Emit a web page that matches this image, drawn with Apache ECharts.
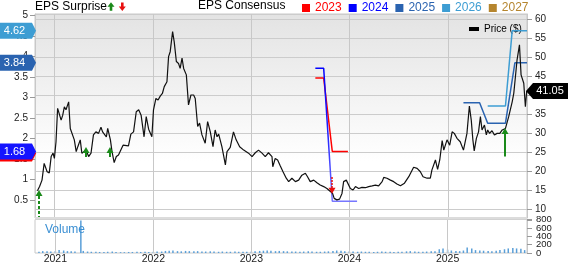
<!DOCTYPE html>
<html><head><meta charset="utf-8">
<script src="https://cdn.jsdelivr.net/npm/echarts@6/dist/echarts.min.js"></script>
<style>html,body{margin:0;padding:0;background:#fff}#c{width:568px;height:264px}</style>
</head><body><div id="c"></div>
<script>
// ---------- DATA ----------
const xRange = ['2020-10-20', '2025-10-21'];
const yearTicks = ['2021-01-01', '2022-01-01', '2023-01-01', '2024-01-01', '2025-01-01'];
const yearLabels = ['2021', '2022', '2023', '2024', '2025'];
const volumeTicks = [0, 200, 400, 600, 800];
const priceSeries = [
['2020-10-29',14.8],['2020-11-06',15.9],['2020-11-15',17.6],['2020-11-23',22.0],['2020-12-04',19.8],['2020-12-12',19.5],['2020-12-19',23.8],['2020-12-26',24.7],['2020-12-31',23.3],
['2021-01-06',27.7],['2021-01-12',36.5],['2021-01-18',36.9],['2021-01-25',33.4],['2021-01-31',34.7],['2021-02-06',36.9],['2021-02-12',36.1],['2021-02-22',38.2],['2021-02-28',31.2],['2021-03-06',30.8],['2021-03-15',28.2],['2021-03-22',25.1],['2021-03-28',26.4],['2021-04-06',28.2],['2021-04-12',24.7],['2021-04-18',24.7],['2021-04-28',25.5],['2021-05-07',23.8],['2021-05-16',24.7],['2021-05-25',29.5],['2021-06-03',30.3],['2021-06-13',29.9],['2021-06-22',31.5],['2021-06-28',30.3],['2021-07-04',30.0],['2021-07-12',29.0],['2021-07-17',31.2],['2021-07-27',28.2],['2021-08-02',25.1],['2021-08-10',22.2],['2021-08-18',23.8],['2021-08-26',24.2],['2021-09-02',24.5],['2021-09-12',26.8],['2021-10-02',26.6],['2021-10-11',29.7],['2021-10-21',30.3],['2021-10-31',35.6],['2021-11-09',36.1],['2021-11-18',34.7],['2021-11-29',29.0],['2021-12-07',34.3],['2021-12-16',31.0],['2021-12-28',29.0],
['2022-01-03',36.1],['2022-01-12',39.1],['2022-01-20',38.7],['2022-01-28',39.7],['2022-02-05',40.4],['2022-02-12',42.2],['2022-02-22',43.5],['2022-02-28',50.1],['2022-03-06',51.4],['2022-03-15',56.7],['2022-03-21',54.0],['2022-03-29',48.8],['2022-04-06',48.3],['2022-04-12',47.0],['2022-04-19',49.7],['2022-04-25',47.0],['2022-05-05',45.3],['2022-05-13',37.4],['2022-05-22',40.0],['2022-06-01',40.0],['2022-06-07',39.1],['2022-06-16',31.7],['2022-06-23',32.6],['2022-07-02',29.5],['2022-07-14',27.3],['2022-07-23',33.0],['2022-08-02',30.3],['2022-08-12',26.4],['2022-08-20',30.8],['2022-08-27',29.0],['2022-09-02',29.7],['2022-09-14',26.4],['2022-09-27',21.6],['2022-10-03',25.1],['2022-10-15',26.2],['2022-10-27',30.3],['2022-11-06',28.2],['2022-11-19',26.4],['2022-12-04',25.5],['2022-12-22',24.7],
['2023-01-04',23.8],['2023-01-16',24.8],['2023-01-28',25.5],['2023-02-10',24.7],['2023-02-22',23.8],['2023-03-06',24.8],['2023-03-19',23.8],['2023-03-22',21.1],['2023-03-31',23.3],['2023-04-09',22.9],['2023-04-19',21.3],['2023-04-29',19.8],['2023-05-11',18.1],['2023-05-20',17.2],['2023-06-01',18.1],['2023-06-14',17.2],['2023-06-26',17.6],['2023-07-08',18.9],['2023-07-21',19.4],['2023-07-29',18.5],['2023-08-08',17.2],['2023-08-21',17.6],['2023-09-02',16.9],['2023-09-14',16.3],['2023-09-27',15.9],['2023-10-09',15.4],['2023-10-22',14.6],['2023-10-30',14.1],['2023-11-05',12.8],['2023-11-15',12.4],['2023-11-25',12.6],['2023-12-04',14.1],['2023-12-10',17.2],['2023-12-20',17.6],['2023-12-26',17.2],
['2024-01-04',15.4],['2024-01-14',15.0],['2024-01-23',15.9],['2024-02-04',15.4],['2024-02-16',15.7],['2024-02-29',15.6],['2024-03-12',15.9],['2024-03-25',16.1],['2024-04-06',16.3],['2024-04-18',16.1],['2024-05-01',17.2],['2024-05-07',18.3],['2024-05-19',18.1],['2024-06-01',17.6],['2024-06-13',17.2],['2024-06-25',16.6],['2024-07-08',16.1],['2024-07-23',16.8],['2024-08-08',18.5],['2024-08-26',21.0],['2024-09-08',20.7],['2024-09-20',19.8],['2024-09-30',18.5],['2024-10-15',18.1],['2024-10-27',18.1],['2024-11-02',20.3],['2024-11-15',22.9],['2024-11-23',20.4],['2024-12-01',22.9],['2024-12-10',28.0],['2024-12-16',25.5],['2024-12-28',28.2],
['2025-01-07',26.8],['2025-01-16',30.3],['2025-01-24',29.9],['2025-02-03',28.6],['2025-02-15',27.7],['2025-02-27',25.5],['2025-03-06',25.1],['2025-03-12',29.9],['2025-03-21',37.1],['2025-03-28',33.4],['2025-04-03',28.2],['2025-04-08',25.3],['2025-04-16',28.6],['2025-04-24',30.3],['2025-05-01',34.3],['2025-05-07',30.8],['2025-05-16',32.1],['2025-05-23',29.5],['2025-05-28',30.8],['2025-06-04',29.9],['2025-06-13',30.6],['2025-06-22',29.5],['2025-07-02',29.9],['2025-07-12',29.9],['2025-07-21',30.8],['2025-08-02',31.2],['2025-08-14',34.3],['2025-08-27',38.2],['2025-09-02',40.5],['2025-09-08',44.8],['2025-09-14',49.2],['2025-09-23',53.2],['2025-09-29',45.3],['2025-10-03',44.8],['2025-10-09',43.1],['2025-10-15',36.9],['2025-10-20',41.05]
];
const cons2023 = [['2023-08-27',3.47],['2023-09-27',3.47],['2023-10-29',1.68],['2023-12-26',1.68]];
const cons2024 = [['2023-08-27',3.71],['2023-09-27',3.71],['2023-10-29',0.47],['2024-01-29',0.47]];
const cons2025 = [['2025-02-27',2.87],['2025-04-28',2.87],['2025-05-28',2.37],['2025-08-02',2.37],['2025-09-06',3.84],['2025-10-21',3.84]];
const cons2026 = [['2025-05-28',2.79],['2025-08-02',2.79],['2025-08-27',4.62],['2025-10-21',4.62]];
const cons2027 = [];
// date, arrow tip price, tail price, direction (1 beat / -1 miss), stem style (0 solid, 1 dashed, 2 dotted)
const surprises = [
['2020-11-02',15.0,7.63,1,1],
['2021-04-28',26.3,23.7,1,0],
['2021-07-27',26.3,23.7,1,0],
['2023-10-29',14.0,18.4,-1,2],
['2025-07-31',31.3,23.8,1,0]
];
const epsTags = [4.62, 3.84, 1.68];
const volumeSeries = [
['2020-11-01',30],['2020-11-15',45],['2020-12-01',40],['2020-12-15',35],
['2021-01-01',50],['2021-01-15',70],['2021-02-01',60],['2021-02-15',45],['2021-03-01',40],['2021-03-15',35],['2021-04-06',780],['2021-04-15',50],['2021-05-01',35],['2021-05-15',30],['2021-06-01',30],['2021-06-15',25],['2021-07-01',25],['2021-07-15',30],['2021-08-01',35],['2021-08-15',25],['2021-09-01',20],['2021-09-15',20],['2021-10-01',25],['2021-10-15',25],['2021-11-01',30],['2021-11-15',25],['2021-12-01',30],['2021-12-15',25],
['2022-01-01',30],['2022-01-15',35],['2022-02-01',35],['2022-02-15',50],['2022-03-01',55],['2022-03-15',60],['2022-04-01',45],['2022-04-15',40],['2022-05-01',50],['2022-05-15',45],['2022-06-01',40],['2022-06-15',45],['2022-07-01',35],['2022-07-15',35],['2022-08-01',40],['2022-08-15',35],['2022-09-01',30],['2022-09-15',35],['2022-10-01',30],['2022-10-15',30],['2022-11-01',35],['2022-11-15',30],['2022-12-01',30],['2022-12-15',30],
['2023-01-01',35],['2023-01-15',40],['2023-02-01',50],['2023-02-15',55],['2023-03-01',60],['2023-03-15',55],['2023-04-01',45],['2023-04-15',50],['2023-05-01',45],['2023-05-15',40],['2023-06-01',35],['2023-06-15',35],['2023-07-01',30],['2023-07-15',35],['2023-08-01',40],['2023-08-15',35],['2023-09-01',30],['2023-09-15',30],['2023-10-01',35],['2023-10-15',40],['2023-11-01',50],['2023-11-15',60],['2023-12-01',55],['2023-12-15',45],
['2024-01-01',40],['2024-01-15',35],['2024-02-01',30],['2024-02-15',35],['2024-03-01',30],['2024-03-15',30],['2024-04-01',25],['2024-04-15',30],['2024-05-01',35],['2024-05-15',30],['2024-06-01',30],['2024-06-15',25],['2024-07-01',30],['2024-07-15',30],['2024-08-01',40],['2024-08-15',45],['2024-09-01',35],['2024-09-15',30],['2024-10-01',30],['2024-10-15',35],['2024-11-01',40],['2024-11-15',45],['2024-12-01',90],['2024-12-15',110],
['2025-01-01',80],['2025-01-15',60],['2025-02-01',50],['2025-02-15',45],['2025-03-01',60],['2025-03-15',130],['2025-04-01',110],['2025-04-15',70],['2025-05-01',60],['2025-05-15',55],['2025-06-01',50],['2025-06-15',45],['2025-07-01',55],['2025-07-15',70],['2025-08-01',90],['2025-08-15',110],['2025-09-01',120],['2025-09-15',110],['2025-10-01',100],['2025-10-15',70]
];

// ---------- STYLE / LAYOUT ----------
const FONT = "'Liberation Sans', Arial, Helvetica, sans-serif";
const C = {c2023:'#ff0000', c2024:'#0000ff', c2025:'#2a63b0', c2026:'#3d9dd3', c2027:'#b5852e', up:'#1a8a1a', down:'#e81010', grid:'#cccccc', vol:'#5a9fd8'};
const L = 35, R = 41, TOP = 14, MAIN_H = 204, VOL_TOP = 219.5, VOL_H = 33.5;

const chart = echarts.init(document.getElementById('c'), null, {renderer:'canvas'});
const vLines = yearTicks.map(d => ({xAxis: d}));
const isMult = (v, step) => Math.abs(v / step - Math.round(v / step)) < 1e-6;

function arrowRender(params, api) {
  const p = api.coord([api.value(0), api.value(1)]);
  const q = api.coord([api.value(0), api.value(2)]);
  const dir = api.value(3), st = api.value(4);
  const color = dir > 0 ? C.up : C.down;
  const x = Math.round(p[0]);
  const tipY = p[1], headH = 6, headW = 7;
  const baseY = tipY + dir * headH;
  return {type:'group', children:[
    {type:'line', shape:{x1:x, y1:baseY, x2:x, y2:q[1]},
     style:{stroke:color, lineWidth:2, lineDash: st === 1 ? [3,2] : (st === 2 ? [1.5,1.5] : null)}},
    {type:'polygon', shape:{points:[[x - headW/2, baseY], [x + headW/2, baseY], [x, tipY]]}, style:{fill:color}}
  ]};
}

const consLine = (name, data, color, stroke) => ({
  name, type:'line', xAxisIndex:0, yAxisIndex:0, data, showSymbol:false, symbol:'none',
  lineStyle:{color: stroke || color, width:1.5}, itemStyle:{color}, z:4, silent:true
});
const fade2024 = {type:'linear', x:0, y:0, x2:0, y2:1, colorStops:[{offset:0,color:'#0000ff'},{offset:0.45,color:'#1a1aff'},{offset:1,color:'#7a7aff'}]};

const option = {
  animation:false,
  textStyle:{fontFamily:FONT},
  grid:[
    {left:L, right:R, top:TOP, height:MAIN_H, show:true, borderColor:'#c8c8c8', borderWidth:1,
     backgroundColor:{type:'linear', x:0, y:0, x2:0, y2:1, colorStops:[{offset:0,color:'#e3e3e3'},{offset:0.72,color:'#ffffff'},{offset:1,color:'#ffffff'}]}},
    {left:L, right:R, top:VOL_TOP, height:VOL_H, show:true, borderColor:'#c8c8c8', borderWidth:1, backgroundColor:'#ffffff'}
  ],
  xAxis:[
    {type:'time', gridIndex:0, min:xRange[0], max:xRange[1], axisLabel:{show:false}, axisTick:{show:false}, axisLine:{show:false}, splitLine:{show:false}},
    {type:'time', gridIndex:1, min:xRange[0], max:xRange[1], axisTick:{show:false}, axisLine:{show:false}, splitLine:{show:false}, axisLabel:{show:false}}
  ],
  yAxis:[
    {type:'value', gridIndex:0, position:'left', min:0.06, max:5.03, minInterval:0.5, maxInterval:0.5,
     axisLine:{show:true, lineStyle:{color:'#c8c8c8'}}, axisTick:{show:true, length:5, lineStyle:{color:'#999'}},
     axisLabel:{fontSize:10, color:'#222', margin:7, showMinLabel:false, showMaxLabel:false, formatter:v => isMult(v,0.5) ? String(+v.toFixed(1)) : ''},
     splitLine:{show:false}},
    {type:'value', gridIndex:0, position:'right', min:7.63, max:61.32, minInterval:5, maxInterval:5,
     axisLine:{show:true, lineStyle:{color:'#c8c8c8'}}, axisTick:{show:true, length:5, lineStyle:{color:'#999'}},
     axisLabel:{fontSize:10, color:'#222', margin:8, showMinLabel:false, showMaxLabel:false, formatter:v => isMult(v,5) ? String(Math.round(v)) : ''},
     splitLine:{show:true, lineStyle:{color:C.grid, width:1}}},
    {type:'value', gridIndex:1, position:'right', min:0, max:807, minInterval:200, maxInterval:200,
     axisLine:{show:true, lineStyle:{color:'#c8c8c8'}}, axisTick:{show:true, length:5, lineStyle:{color:'#999'}},
     axisLabel:{show:false}, splitLine:{show:false}}
  ],
  legend:[
    {left:297, top:-3, itemWidth:8, itemHeight:8, itemGap:7, icon:'rect', selectedMode:false,
     textStyle:{fontSize:12, fontFamily:FONT},
     data:[{name:'2023', textStyle:{color:C.c2023}}, {name:'2024', textStyle:{color:C.c2024}, itemStyle:{color:C.c2024}}, {name:'2025', textStyle:{color:C.c2025}},
           {name:'2026', textStyle:{color:C.c2026}}, {name:'2027', textStyle:{color:C.c2027}}]},
    {left:464, top:19, itemWidth:10, itemHeight:4, icon:'rect', selectedMode:false,
     textStyle:{fontSize:10, color:'#000', fontFamily:FONT}, data:['Price ($)']}
  ],
  series:[
    {name:'Price ($)', type:'line', xAxisIndex:0, yAxisIndex:1, data:priceSeries, showSymbol:false, symbol:'none',
     lineStyle:{color:'#111', width:1.2}, itemStyle:{color:'#000'}, z:5, silent:true,
     markLine:{silent:true, symbol:'none', label:{show:false}, lineStyle:{color:'#c8c8c8', width:1, type:'solid'}, data:vLines, z:1}},
    consLine('2023', cons2023, C.c2023),
    consLine('2024', cons2024, C.c2024, fade2024),
    consLine('2025', cons2025, C.c2025),
    consLine('2026', cons2026, C.c2026),
    consLine('2027', cons2027, C.c2027),
    {name:'surprise', type:'custom', xAxisIndex:0, yAxisIndex:1, data:surprises, renderItem:arrowRender, clip:false, z:6, silent:true,
     encode:{x:0, y:[1,2]}},
    {name:'Volume', type:'bar', xAxisIndex:1, yAxisIndex:2, data:volumeSeries, barWidth:1.5, itemStyle:{color:C.vol}, silent:true,
     markLine:{silent:true, symbol:'none', label:{show:false}, lineStyle:{color:'#c8c8c8', width:1, type:'solid'}, data:vLines}}
  ]
};
chart.setOption(option);

// ---------- overlay labels positioned through the axes ----------
function arrowPoly(cx, tipY, dir, headW, headH, stemW, stemH) {
  const b = tipY + dir * headH, e = b + dir * stemH;
  return [[cx, tipY], [cx + headW/2, b], [cx + stemW/2, b], [cx + stemW/2, e], [cx - stemW/2, e], [cx - stemW/2, b], [cx - headW/2, b]];
}
const tagColors = [C.c2026, C.c2025, '#1414ff'];
const g = [];
g.push({type:'rect', shape:{x:L, y:TOP + MAIN_H - 1, width:568 - L - R, height:2.5}, style:{fill:'#dcdcdc'}, z:50});
g.push({type:'text', x:35, y:6.7, style:{text:'EPS Surprise', font:'12px ' + FONT, fill:'#000', verticalAlign:'middle'}, z:50});
g.push({type:'polygon', shape:{points:arrowPoly(111, 2.3, 1, 7, 4.5, 2.6, 4)}, style:{fill:C.up}, z:50});
g.push({type:'polygon', shape:{points:arrowPoly(122.3, 11, -1, 7, 4.5, 2.6, 4)}, style:{fill:C.down}, z:50});
g.push({type:'text', x:198, y:5.8, style:{text:'EPS Consensus', font:'12px ' + FONT, fill:'#000', verticalAlign:'middle'}, z:50});
g.push({type:'text', x:45, y:229.5, style:{text:'Volume', font:'12px ' + FONT, fill:'#3a8fd3', verticalAlign:'middle'}, z:50});
yearTicks.forEach((d, i) => {
  const x = chart.convertToPixel({xAxisIndex:1}, d);
  g.push({type:'text', x:x, y:259.5, style:{text:yearLabels[i], font:'10.5px ' + FONT, fill:'#222', align:'center', verticalAlign:'middle'}, z:50});
});
volumeTicks.forEach(v => {
  const y = chart.convertToPixel({yAxisIndex:2}, v);
  g.push({type:'text', x:536, y:y, style:{text:String(v), font:'9.5px ' + FONT, fill:'#222', align:'left', verticalAlign:'middle'}, z:50});
});
epsTags.forEach((v, i) => {
  const y = chart.convertToPixel({yAxisIndex:0}, v);
  const pts = (dy) => [[0, y - 8 + dy], [32, y - 8 + dy], [36, y + dy], [32, y + 8 + dy], [0, y + 8 + dy]];
  if (i === 2) g.push({type:'polygon', shape:{points:pts(2)}, style:{fill:C.c2023}, z:60});
  g.push({type:'polygon', shape:{points:pts(0)}, style:{fill:tagColors[i]}, z:61});
  g.push({type:'text', x:14.5, y:y, style:{text:v.toFixed(2), font:'11px ' + FONT, fill:'#fff', align:'center', verticalAlign:'middle'}, z:62});
});
const lastPrice = priceSeries[priceSeries.length - 1][1];
const py = chart.convertToPixel({yAxisIndex:1}, lastPrice);
g.push({type:'polygon', shape:{points:[[526, py], [533, py - 8], [568, py - 8], [568, py + 8], [533, py + 8]]}, style:{fill:'#000'}, z:60});
g.push({type:'text', x:550, y:py, style:{text:lastPrice.toFixed(2), font:'11px ' + FONT, fill:'#fff', align:'center', verticalAlign:'middle'}, z:61});
chart.setOption({graphic:g});
</script></body></html>
